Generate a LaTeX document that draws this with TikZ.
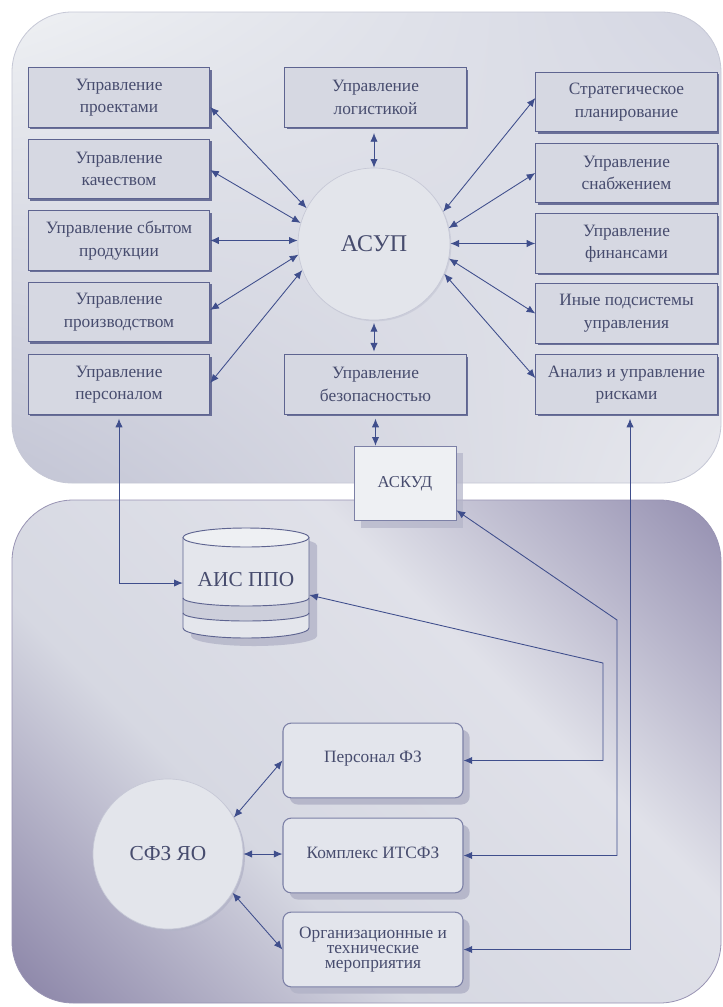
\documentclass[tikz,border=0pt]{standalone}
\usepackage{fontspec}
\setmainfont{Liberation Serif}
\usetikzlibrary{arrows.meta,shadows,calc,shadings}
\definecolor{txt}{HTML}{474C6E}
\definecolor{boxfill}{HTML}{D6D8E2}
\definecolor{boxdraw}{HTML}{5E6490}
\definecolor{arrc}{HTML}{3F4E8C}
\definecolor{tpUL}{HTML}{EEF0F3}
\definecolor{tpUR}{HTML}{D4D6E2}
\definecolor{tpLL}{HTML}{C3C5D5}
\definecolor{tpLR}{HTML}{E8E9EE}
\definecolor{bpA}{HTML}{8E88AA}
\definecolor{bpL}{HTML}{D6D8E2}
\definecolor{bpL2}{HTML}{E0E1E9}
\definecolor{bpB}{HTML}{9893B3}
\definecolor{circfill}{HTML}{E3E5EB}
\definecolor{circedge}{HTML}{C6C8D6}
\definecolor{rbfill}{HTML}{E3E5EC}
\definecolor{rbdraw}{HTML}{7C80A6}
\definecolor{rbshadow}{HTML}{B3B4C8}
\definecolor{cylfill}{HTML}{E4E6EC}
\definecolor{cylband}{HTML}{CDCFDB}
\definecolor{cyldraw}{HTML}{5E6490}
\pgfdeclarehorizontalshading{botsh}{100bp}{color(0bp)=(bpA); color(16bp)=(bpA); color(38bp)=(bpL); color(62bp)=(bpL2); color(84bp)=(bpB); color(100bp)=(bpB)}
\begin{document}
\begin{tikzpicture}[x=0.75pt,y=-0.75pt,
  tbox/.style={draw=boxdraw, line width=0.8pt, fill=boxfill, text=txt,
    font=\fontsize{13}{17}\selectfont, align=center,
    minimum width=136pt, minimum height=44.5pt, inner sep=2pt,
    drop shadow={shadow xshift=1.4pt, shadow yshift=-1.4pt, fill=boxdraw, opacity=0.9}},
  rbox/.style={draw=rbdraw, line width=0.8pt, fill=rbfill, text=txt, rounded corners=6pt,
    font=\fontsize{13}{17}\selectfont, align=center,
    minimum width=135pt, minimum height=56pt, inner sep=2pt,
    drop shadow={shadow xshift=5pt, shadow yshift=-5pt, fill=rbshadow, opacity=0.9}},
  arr/.style={draw=arrc, line width=0.65pt, {Latex[length=6.5pt,width=5.5pt]}-{Latex[length=6.5pt,width=5.5pt]}},
  bigc/.style={circle, fill=circfill, draw=circedge, line width=0.5pt, text=txt, inner sep=0pt}
]
\useasboundingbox (0,0) rectangle (722,1007);
\fill[white] (0,0) rectangle (722,1007);
% panels
\shade[upper left=tpUL, upper right=tpUR, lower left=tpLL, lower right=tpLR, rounded corners=45pt] (12,12) rectangle (721,483);
\draw[draw=circedge, line width=0.6pt, rounded corners=45pt] (12,12) rectangle (721,483);
\shade[shading=botsh, shading angle=45, rounded corners=46pt] (12,500) rectangle (721,1003);
\draw[draw=bpB, line width=0.6pt, rounded corners=46pt] (12,500) rectangle (721,1003);

% top boxes
\node[tbox] (b1) at (119,97.5) {Управление\\проектами};
\node[tbox] (b2) at (119,169) {Управление\\качеством};
\node[tbox] (b3) at (119,240.5) {Управление сбытом\\продукции};
\node[tbox] (b4) at (119,312) {Управление\\производством};
\node[tbox] (b5) at (119,384.5) {Управление\\персоналом};
\node[tbox] (log) at (375.5,97.5) {Управление\\логистикой};
\node[tbox] (sec) at (375.5,384.5) {Управление\\безопасностью};
\node[tbox] (str) at (626.5,102) {Стратегическое\\планирование};
\node[tbox] (snab) at (626.5,173) {Управление\\снабжением};
\node[tbox] (fin) at (626.5,243.5) {Управление\\финансами};
\node[tbox] (inye) at (626.5,313.5) {Иные подсистемы\\управления};
\node[tbox] (anal) at (626.5,384.5) {Анализ и управление\\рисками};

\node[bigc, minimum size=114pt, font=\fontsize{18}{20}\selectfont,
  drop shadow={shadow xshift=1pt, shadow yshift=-1pt, fill=circedge, opacity=0.7}] (asup) at (374,244) {АСУП};

% ASKUD
\node[draw=rbdraw, line width=0.7pt, fill=tpUL, text=txt, font=\fontsize{12.5}{15}\selectfont,
  minimum width=76.5pt, minimum height=56pt,
  drop shadow={shadow xshift=5pt, shadow yshift=-5pt, fill=rbshadow, opacity=0.7}] (askud) at (405,483.5) {АСКУД};

% top arrows
\draw[arr] ($(b1.east)+(0,9.5)$) -- (asup.152.5);
\draw[arr] ($(b2.east)+(0,1)$) -- (asup.164);
\draw[arr] (b3.east) -- (b3.east -| asup.west);
\draw[arr] ($(b4.east)+(0,-2)$) -- (asup.188);
\draw[arr] ($(b5.east)+(0,-1.5)$) -- (asup.200);
\draw[arr] ($(str.west)+(0,-4)$) -- (asup.25.6);
\draw[arr] (snab.west) -- (asup.12);
\draw[arr] (fin.west) -- (fin.west -| asup.east);
\draw[arr] (inye.west) -- (asup.-11);
\draw[arr] ($(anal.west)+(0,-6.5)$) -- (asup.-23);
\draw[arr, shorten >=4pt] (asup.north) -- (asup.north |- log.south);
\draw[arr, shorten <=2pt, shorten >=2pt] (asup.south) -- (asup.south |- sec.north);
\draw[arr, shorten <=3pt] (sec.south) -- (sec.south |- askud.north);

% cylinder AIS PPO
\begin{scope}[shift={(8,8)}]
\fill[rbshadow, opacity=0.8] (183,537.5) -- (183,628) arc[start angle=180,end angle=360,x radius=47.25pt,y radius=7.5pt] -- (309,537.5) arc[start angle=0,end angle=180,x radius=47.25pt,y radius=7.125pt] -- cycle;
\end{scope}
\fill[cylfill] (183,537.5) -- (183,628) arc[start angle=180,end angle=360,x radius=47.25pt,y radius=7.5pt] -- (309,537.5) arc[start angle=0,end angle=180,x radius=47.25pt,y radius=7.125pt] -- cycle;
\fill[cylband] (183,598) arc[start angle=180,end angle=360,x radius=47.25pt,y radius=6pt] -- (309,613) arc[start angle=0,end angle=-180,x radius=47.25pt,y radius=6pt] -- cycle;
\draw[cyldraw, line width=0.7pt] (183,537.5) -- (183,628) arc[start angle=180,end angle=360,x radius=47.25pt,y radius=7.5pt] -- (309,537.5);
\draw[cyldraw, line width=0.7pt, fill=tpUL] (246,537.5) ellipse [x radius=47.25pt, y radius=7.125pt];
\draw[cyldraw, line width=0.7pt] (183,598) arc[start angle=180,end angle=360,x radius=47.25pt,y radius=6pt];
\draw[cyldraw, line width=0.7pt] (183,613) arc[start angle=180,end angle=360,x radius=47.25pt,y radius=6pt];
\node[minimum width=94.5pt, minimum height=82.5pt, inner sep=0pt, text=txt, font=\fontsize{16}{18}\selectfont] (ais) at (246,583) {\raisebox{5pt}{АИС ППО}};

% bottom boxes
\node[rbox] (pers) at (373,760.5) {\raisebox{6pt}{Персонал ФЗ}};
\node[rbox] (itsfz) at (373,855.5) {\raisebox{4pt}{Комплекс ИТСФЗ}};
\node[rbox, font=\fontsize{13}{11.5}\selectfont] (org) at (373,949.5) {Организационные и\\технические\\мероприятия};

\node[bigc, minimum size=112.5pt, font=\fontsize{16}{18}\selectfont,
  drop shadow={shadow xshift=1.5pt, shadow yshift=-1.5pt, fill=rbshadow, opacity=0.8}] (sfz) at (168,854) {СФЗ ЯО};

\draw[arr] (sfz.29.6) -- (pers.west);
\draw[arr] (sfz.east) -- (sfz.east -| itsfz.west);
\draw[arr] (sfz.-31) -- (org.west);

% long connectors
\coordinate (c1) at (603,663);
\coordinate (c2) at (617,620);
\draw[arr, shorten <=3pt] (b5.south) |- (ais.west);
\draw[arr] ($(ais.east)+(0,12)$) -- (c1) |- (pers.east);
\draw[arr] ($(askud.south east)+(0,-11)$) -- (c2) |- (itsfz.east);
\draw[arr, shorten <=3pt] ($(anal.south)+(3.5,0)$) |- (org.east);
\end{tikzpicture}
\end{document}
